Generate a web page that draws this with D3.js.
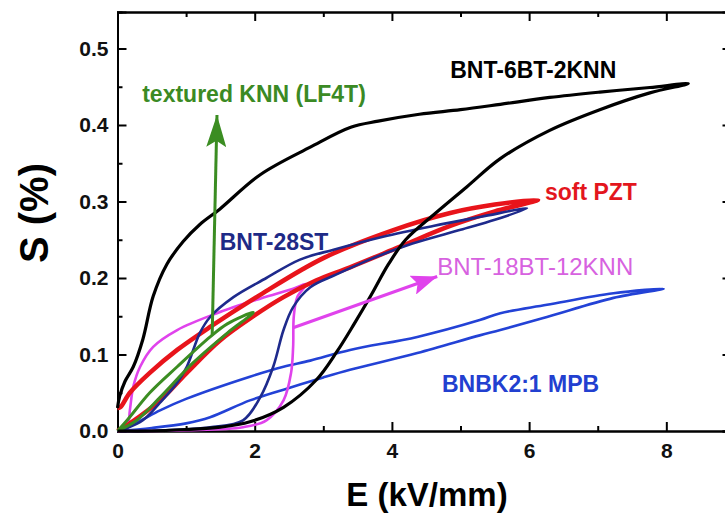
<!DOCTYPE html>
<html>
<head>
<meta charset="utf-8">
<script src="https://cdn.jsdelivr.net/npm/d3@7"></script>
<style>
body { margin: 0; background: #fff; }
svg { display: block; font-family: "Liberation Sans", Arial, sans-serif; }
</style>
</head>
<body>
<div id="chart"></div>
<script>
var width = 725,
  height = 515;

// axis ticks
var eTicks = [0, 2, 4, 6, 8];
var eMinor = [1, 3, 5, 7];
var sTicks = [0, 0.1, 0.2, 0.3, 0.4, 0.5];
var sMinor = [0.05, 0.15, 0.25, 0.35, 0.45];

// strain loops, [E (kV/mm), S (%)], rising branch then falling branch
var bnbk = [[0, 0], [0.5, 0.004], [1.0, 0.01], [1.35, 0.018], [1.93, 0.04], [2.42, 0.054], [3.0, 0.07], [3.39, 0.08], [4.37, 0.102], [5.28, 0.125], [5.58, 0.132], [6.26, 0.149], [7.23, 0.174], [7.96, 0.186],
  [7.23, 0.18], [6.26, 0.165], [5.58, 0.154], [5.28, 0.145], [4.37, 0.123], [3.39, 0.106], [2.81, 0.092], [2.42, 0.084], [1.93, 0.071], [1.0, 0.042], [0.62, 0.027], [0.3, 0.012], [0, 0]];

var bnt18 = [[0, 0], [1.0, 0.001], [1.83, 0.005], [2.17, 0.014], [2.42, 0.04], [2.53, 0.076], [2.56, 0.11], [2.57, 0.15], [2.62, 0.175], [2.75, 0.192],
  [2.56, 0.186], [2.08, 0.173], [1.45, 0.154], [0.87, 0.132], [0.52, 0.11], [0.33, 0.084], [0.23, 0.058], [0.18, 0.027], [0.14, 0.005], [0, 0]];

var pzt = [[0, 0], [0.18, 0.01], [0.62, 0.04], [1.01, 0.076], [1.49, 0.118], [1.98, 0.15], [2.42, 0.175], [2.9, 0.197], [3.39, 0.214], [4.12, 0.241], [4.85, 0.268], [5.5, 0.287], [6.13, 0.302],
  [5.5, 0.296], [4.85, 0.285], [4.0, 0.262], [3.0, 0.226], [2.08, 0.178], [1.35, 0.136], [0.87, 0.106], [0.47, 0.076], [0.18, 0.05], [0.04, 0.031], [0, 0.03]];

var bnt28 = [[0, 0], [0.7, 0.001], [1.35, 0.005], [1.83, 0.014], [2.08, 0.044], [2.27, 0.084], [2.42, 0.132], [2.56, 0.162], [2.81, 0.188], [3.2, 0.205], [3.7, 0.225], [4.3, 0.245], [5.0, 0.263], [5.5, 0.276], [5.97, 0.291],
  [5.3, 0.28], [4.6, 0.268], [3.87, 0.254], [3.15, 0.237], [2.66, 0.224], [2.17, 0.2], [1.69, 0.175], [1.35, 0.149], [1.2, 0.128], [1.01, 0.084], [0.87, 0.063], [0.62, 0.037], [0.37, 0.014], [0.14, 0.004], [0, 0]];

var knn = [[0, 0], [0.28, 0.014], [0.62, 0.044], [1.1, 0.089], [1.6, 0.128], [1.98, 0.155],
  [1.6, 0.14], [1.35, 0.123], [0.87, 0.084], [0.47, 0.05], [0.14, 0.014], [0, 0]];

var bnt6 = [[0, 0], [0.5, 0.0], [1.0, 0.002], [1.5, 0.005], [1.93, 0.012], [2.42, 0.031], [2.9, 0.067], [3.2, 0.104], [3.45, 0.14], [3.7, 0.178], [3.95, 0.218], [4.2, 0.25], [4.6, 0.282], [5.09, 0.319], [5.58, 0.356], [6.3, 0.393], [7.03, 0.42], [7.76, 0.442], [8.32, 0.454],
  [7.76, 0.449], [7.03, 0.443], [6.3, 0.436], [5.58, 0.427], [5.0, 0.42], [4.4, 0.414], [3.8, 0.405], [3.4, 0.397], [2.81, 0.371], [2.08, 0.335], [1.49, 0.29], [1.2, 0.27], [0.96, 0.248], [0.72, 0.218], [0.52, 0.176], [0.37, 0.12], [0.23, 0.084], [0.11, 0.065], [0.03, 0.045], [0, 0.03]];

// arrows [from, to]
var knnArrow = [[1.38, 0.125], [1.45, 0.413]];
var bnt18Arrow = [[2.56, 0.135], [4.66, 0.202]];

// labels
var labelNames = ["textured KNN (LF4T)", "BNT-6BT-2KNN", "soft PZT", "BNT-28ST", "BNT-18BT-12KNN", "BNBK2:1 MPB"];
var labelE = [0.36, 4.85, 6.23, 1.49, 4.66, 4.73];
var labelS = [0.43, 0.461, 0.302, 0.237, 0.204, 0.051];

var series = [
  {data: bnbk, color: "#2342d6", w: 2.6},
  {data: bnt18, color: "#e043ec", w: 2.6},
  {data: pzt, color: "#e8141b", w: 4.5},
  {data: bnt28, color: "#1e2a8c", w: 2.6},
  {data: knn, color: "#3b8d22", w: 3},
  {data: bnt6, color: "#000000", w: 3.2}
];
var labelColors = ["#3b8a24", "#000", "#e3161d", "#1e2a87", "#d762e0", "#2240d0"];
var labelWeights = ["bold", "bold", "bold", "bold", "normal", "bold"];
var labelSizes = [23, 23, 23, 23, 24, 23];

var svg = d3.select("#chart").append("svg")
  .attr("width", width)
  .attr("height", height);

var x = d3.scaleLinear().domain([0, 8.95]).range([117.5, 731.5]);
var y = d3.scaleLinear().domain([0, 0.5477]).range([431, 12]);

var defs = svg.append("defs");
function arrowHead(id, color, len, wid) {
  defs.append("marker")
    .attr("id", id)
    .attr("markerUnits", "userSpaceOnUse")
    .attr("viewBox", "0 0 " + len + " " + wid)
    .attr("markerWidth", len)
    .attr("markerHeight", wid)
    .attr("refX", len)
    .attr("refY", wid / 2)
    .attr("orient", "auto")
    .append("path")
    .attr("d", "M0,0 L" + len + "," + wid / 2 + " L0," + wid + " L" + len * 0.2 + "," + wid / 2 + " Z")
    .attr("fill", color);
}
arrowHead("headGreen", "#3b8d22", 32, 20);
arrowHead("headPink", "#e043ec", 26, 20);

// axes
function styleAxis(g) {
  g.select(".domain").attr("stroke", "#000").attr("stroke-width", 2);
  g.selectAll(".tick line").attr("stroke", "#000").attr("stroke-width", 2);
  g.selectAll(".tick text").attr("font-size", 21).attr("font-weight", "bold").attr("fill", "#111");
}

svg.append("g")
  .attr("transform", "translate(0,431)")
  .call(d3.axisBottom(x).tickValues(eTicks).tickSize(-9).tickPadding(12).tickFormat(d3.format("d")))
  .call(styleAxis);
svg.append("g")
  .attr("transform", "translate(0,431)")
  .call(d3.axisBottom(x).tickValues(eMinor).tickSize(-5).tickFormat(""))
  .call(styleAxis);
svg.append("g")
  .attr("transform", "translate(0,12)")
  .call(d3.axisTop(x).tickValues(eTicks).tickSize(-9).tickFormat(""))
  .call(styleAxis);
svg.append("g")
  .attr("transform", "translate(0,12)")
  .call(d3.axisTop(x).tickValues(eMinor).tickSize(-5).tickFormat(""))
  .call(styleAxis);

svg.append("g")
  .attr("transform", "translate(117.5,0)")
  .call(d3.axisLeft(y).tickValues(sTicks).tickSize(-9).tickPadding(9).tickFormat(d3.format(".1f")))
  .call(styleAxis);
svg.append("g")
  .attr("transform", "translate(117.5,0)")
  .call(d3.axisLeft(y).tickValues(sMinor).tickSize(-5).tickFormat(""))
  .call(styleAxis);
svg.append("g")
  .attr("transform", "translate(731.5,0)")
  .call(d3.axisRight(y).tickValues(sTicks).tickSize(-9).tickFormat(""))
  .call(styleAxis);

// axis titles
svg.append("text")
  .attr("x", 427)
  .attr("y", 506)
  .attr("text-anchor", "middle")
  .attr("font-size", 33)
  .attr("font-weight", "bold")
  .text("E (kV/mm)");

svg.append("text")
  .attr("transform", "translate(48,213) rotate(-90)")
  .attr("text-anchor", "middle")
  .attr("font-size", 40)
  .attr("font-weight", "bold")
  .text("S (%)");

// loops
var line = d3.line()
  .x(function (d) { return x(d[0]); })
  .y(function (d) { return y(d[1]); })
  .curve(d3.curveCatmullRom.alpha(0.5));

svg.append("g").selectAll("path")
  .data(series)
  .enter()
  .append("path")
  .attr("d", function (d) { return line(d.data); })
  .attr("fill", "none")
  .attr("stroke", function (d) { return d.color; })
  .attr("stroke-width", function (d) { return d.w; })
  .attr("stroke-linejoin", "round");

// arrows
var straight = d3.line()
  .x(function (d) { return x(d[0]); })
  .y(function (d) { return y(d[1]); });

svg.append("path")
  .attr("d", straight(knnArrow))
  .attr("stroke", "#3b8d22")
  .attr("stroke-width", 3)
  .attr("marker-end", "url(#headGreen)");

svg.append("path")
  .attr("d", straight(bnt18Arrow))
  .attr("stroke", "#e043ec")
  .attr("stroke-width", 3)
  .attr("marker-end", "url(#headPink)");

// labels
svg.append("g").selectAll("text")
  .data(labelNames)
  .enter()
  .append("text")
  .attr("x", function (d, i) { return x(labelE[i]); })
  .attr("y", function (d, i) { return y(labelS[i]); })
  .attr("fill", function (d, i) { return labelColors[i]; })
  .attr("font-weight", function (d, i) { return labelWeights[i]; })
  .attr("font-size", function (d, i) { return labelSizes[i]; })
  .text(function (d) { return d; });
</script>
</body>
</html>
